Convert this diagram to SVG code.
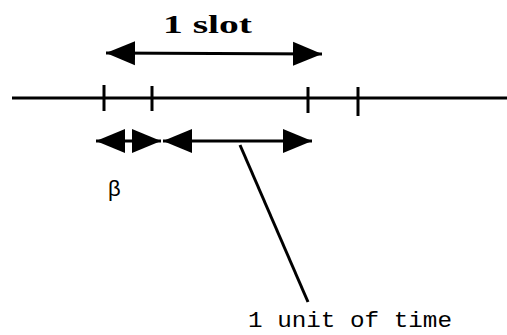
<svg xmlns="http://www.w3.org/2000/svg" width="507" height="335" viewBox="0 0 507 335">
<style>
.ln{stroke:#000;stroke-width:3;fill:none}
.tk{stroke:#000;stroke-width:3}
.lbl{font-family:"Liberation Mono","DejaVu Sans Mono",monospace;fill:#000}
</style>
<defs>
<marker id="ah" markerUnits="userSpaceOnUse" markerWidth="30" markerHeight="26" refX="29" refY="13" orient="auto-start-reverse" viewBox="0 0 30 26">
<path d="M0,1 L29,13 L0,25 Z" fill="#000"/>
</marker>
</defs>
<rect width="507" height="335" fill="#fff"/>
<g id="timeline">
<line class="ln" x1="12" y1="98" x2="507" y2="98"/>
<line class="tk" x1="104" y1="85" x2="104" y2="111"/>
<line class="tk" x1="152" y1="86" x2="152" y2="111"/>
<line class="tk" x1="308" y1="87" x2="308" y2="113"/>
<line class="tk" x1="358" y1="87" x2="358" y2="116"/>
</g>
<g id="connectors">
<line class="ln" x1="106" y1="53" x2="322" y2="54" marker-start="url(#ah)" marker-end="url(#ah)"/>
<line class="ln" x1="96" y1="141" x2="161" y2="141" marker-start="url(#ah)" marker-end="url(#ah)"/>
<line class="ln" x1="163" y1="141" x2="312" y2="141" marker-start="url(#ah)" marker-end="url(#ah)"/>
<line class="ln" x1="240" y1="145" x2="308" y2="302"/>
</g>
<g id="label-slot">
<text x="163" y="33" font-family="Liberation Serif, DejaVu Serif, serif" font-size="26" font-weight="bold" fill="#000" textLength="89" lengthAdjust="spacingAndGlyphs">1 slot</text>
</g>
<g id="label-beta">
<text x="108" y="196" font-family="Liberation Sans, DejaVu Sans, sans-serif" font-size="22" fill="#000">β</text>
</g>
<g id="label-unit">
<text class="lbl" x="248" y="327" font-size="22" textLength="204" lengthAdjust="spacingAndGlyphs">1 unit of time</text>
</g>
</svg>
